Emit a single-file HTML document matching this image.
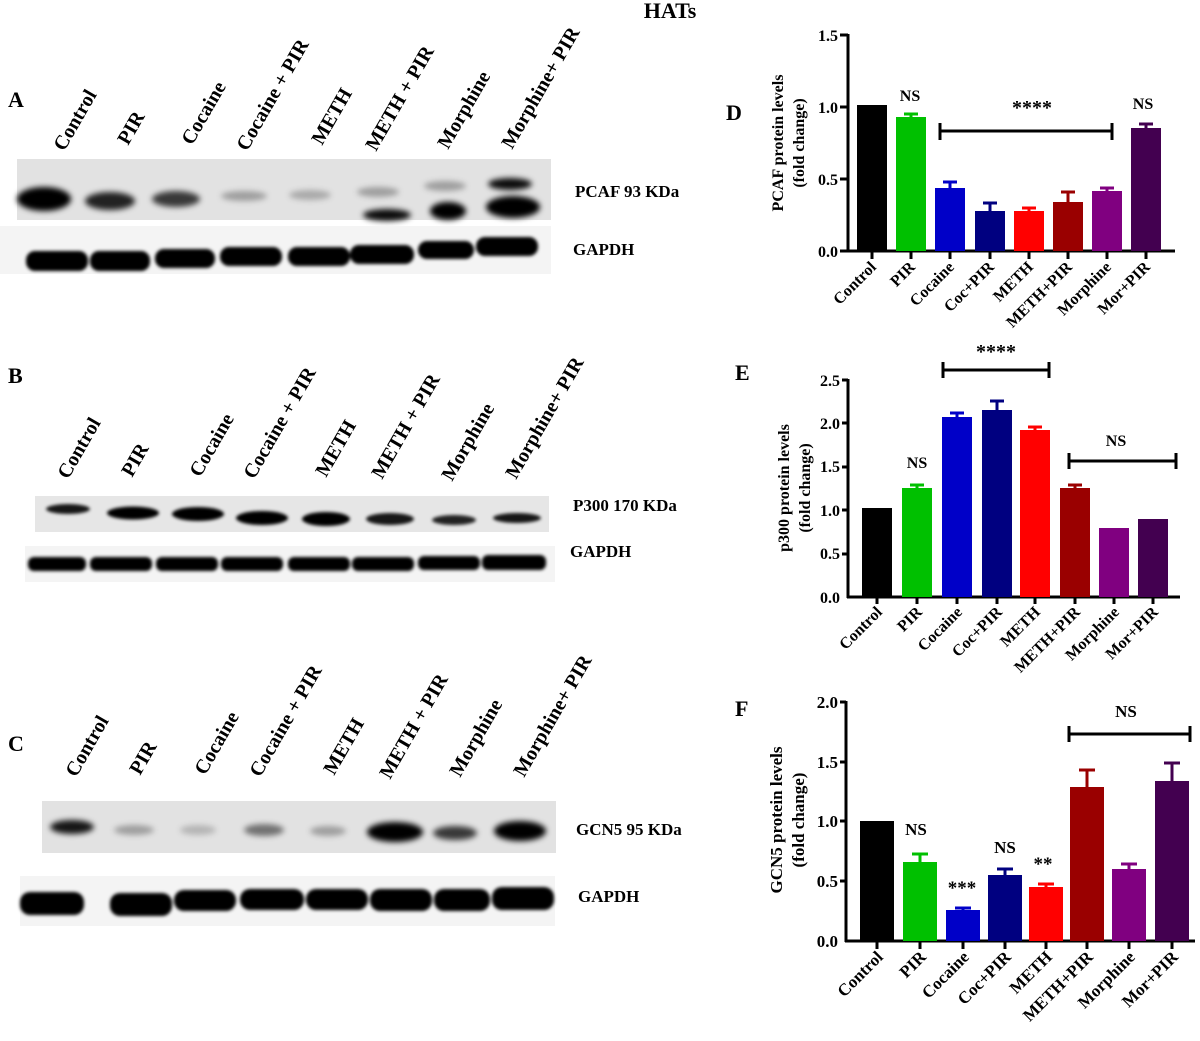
<!DOCTYPE html>
<html><head><meta charset="utf-8"><style>
body{margin:0;background:#fff;}
svg{display:block;font-family:"Liberation Serif",serif;font-weight:bold;}
</style></head><body>
<svg width="1200" height="1041" viewBox="0 0 1200 1041" xmlns="http://www.w3.org/2000/svg">
<defs>
<filter id="b" x="-50%" y="-100%" width="200%" height="300%"><feGaussianBlur stdDeviation="3"/></filter>
<filter id="b2" x="-50%" y="-100%" width="200%" height="300%"><feGaussianBlur stdDeviation="1.5"/></filter>
</defs>
<text x="670" y="18" font-size="22" text-anchor="middle">HATs</text>

<!-- Panel A -->
<text x="8" y="107" font-size="22">A</text>
<g font-size="20">
<text transform="translate(64,152) rotate(-60)">Control</text>
<text transform="translate(128,146) rotate(-60)">PIR</text>
<text transform="translate(192,146) rotate(-60)">Cocaine</text>
<text transform="translate(247,152) rotate(-60)">Cocaine + PIR</text>
<text transform="translate(322,146) rotate(-60)">METH</text>
<text transform="translate(376,152) rotate(-60)">METH + PIR</text>
<text transform="translate(448,150) rotate(-60)">Morphine</text>
<text transform="translate(512,150) rotate(-60)">Morphine+ PIR</text>
</g>
<rect x="17" y="159" width="534" height="61" fill="#e2e2e2"/>
<g filter="url(#b)" fill="#000">
<ellipse cx="44" cy="199" rx="27" ry="12"/>
<ellipse cx="110" cy="201" rx="25" ry="9" opacity="0.85"/>
<ellipse cx="176" cy="199" rx="24" ry="8" opacity="0.75"/>
<ellipse cx="244" cy="196" rx="23" ry="5" opacity="0.3"/>
<ellipse cx="310" cy="195" rx="21" ry="5" opacity="0.25"/>
<ellipse cx="378" cy="192" rx="21" ry="5" opacity="0.3"/>
<ellipse cx="387" cy="215" rx="24" ry="6" opacity="0.95"/>
<ellipse cx="445" cy="186" rx="21" ry="5" opacity="0.3"/>
<ellipse cx="448" cy="211" rx="18" ry="9"/>
<ellipse cx="510" cy="184" rx="22" ry="6" opacity="0.95"/>
<ellipse cx="513" cy="207" rx="27" ry="11"/>
</g>
<rect x="0" y="226" width="551" height="48" fill="#f4f4f4"/>
<g filter="url(#b2)" fill="#000">
<rect x="26" y="251" width="62" height="20" rx="9"/>
<rect x="90" y="251" width="60" height="20" rx="9"/>
<rect x="155" y="249" width="60" height="19" rx="9"/>
<rect x="220" y="247" width="62" height="19" rx="9"/>
<rect x="288" y="247" width="62" height="19" rx="9"/>
<rect x="350" y="245" width="64" height="19" rx="9"/>
<rect x="418" y="241" width="56" height="18" rx="9"/>
<rect x="476" y="237" width="62" height="19" rx="9"/>
</g>
<text x="575" y="197" font-size="17">PCAF 93 KDa</text>
<text x="573" y="255" font-size="17">GAPDH</text>

<!-- Panel B -->
<text x="8" y="383" font-size="22">B</text>
<g font-size="20">
<text transform="translate(68,480) rotate(-60)">Control</text>
<text transform="translate(132,478) rotate(-60)">PIR</text>
<text transform="translate(200,478) rotate(-60)">Cocaine</text>
<text transform="translate(254,480) rotate(-60)">Cocaine + PIR</text>
<text transform="translate(326,478) rotate(-60)">METH</text>
<text transform="translate(382,480) rotate(-60)">METH + PIR</text>
<text transform="translate(452,482) rotate(-60)">Morphine</text>
<text transform="translate(516,480) rotate(-60)">Morphine+ PIR</text>
</g>
<rect x="35" y="496" width="514" height="36" fill="#e6e6e6"/>
<g filter="url(#b2)" fill="#000">
<ellipse cx="68" cy="509" rx="22" ry="5" opacity="0.9"/>
<ellipse cx="133" cy="513" rx="26" ry="6.5"/>
<ellipse cx="198" cy="514" rx="26" ry="7"/>
<ellipse cx="262" cy="518" rx="26" ry="7"/>
<ellipse cx="326" cy="519" rx="24" ry="7"/>
<ellipse cx="390" cy="519" rx="24" ry="6" opacity="0.9"/>
<ellipse cx="454" cy="520" rx="22" ry="5" opacity="0.85"/>
<ellipse cx="517" cy="518" rx="24" ry="5" opacity="0.9"/>
</g>
<rect x="25" y="546" width="530" height="36" fill="#f4f4f4"/>
<g filter="url(#b2)" fill="#000">
<rect x="28" y="557" width="58" height="14" rx="6"/>
<rect x="90" y="557" width="62" height="14" rx="6"/>
<rect x="156" y="557" width="62" height="14" rx="6"/>
<rect x="221" y="557" width="62" height="14" rx="6"/>
<rect x="288" y="557" width="62" height="14" rx="6"/>
<rect x="352" y="557" width="62" height="14" rx="6"/>
<rect x="418" y="556" width="62" height="14" rx="6"/>
<rect x="482" y="555" width="64" height="15" rx="6"/>
</g>
<text x="573" y="511" font-size="17">P300 170 KDa</text>
<text x="570" y="557" font-size="17">GAPDH</text>

<!-- Panel C -->
<text x="8" y="751" font-size="22">C</text>
<g font-size="20">
<text transform="translate(76,778) rotate(-60)">Control</text>
<text transform="translate(140,776) rotate(-60)">PIR</text>
<text transform="translate(205,776) rotate(-60)">Cocaine</text>
<text transform="translate(260,778) rotate(-60)">Cocaine + PIR</text>
<text transform="translate(334,776) rotate(-60)">METH</text>
<text transform="translate(390,780) rotate(-60)">METH + PIR</text>
<text transform="translate(460,778) rotate(-60)">Morphine</text>
<text transform="translate(524,778) rotate(-60)">Morphine+ PIR</text>
</g>
<rect x="42" y="801" width="514" height="52" fill="#e2e2e2"/>
<g filter="url(#b)" fill="#000">
<ellipse cx="72" cy="827" rx="22" ry="7" opacity="0.9"/>
<ellipse cx="134" cy="830" rx="20" ry="5" opacity="0.3"/>
<ellipse cx="198" cy="830" rx="18" ry="5" opacity="0.2"/>
<ellipse cx="264" cy="830" rx="20" ry="6" opacity="0.5"/>
<ellipse cx="328" cy="831" rx="18" ry="5" opacity="0.3"/>
<ellipse cx="395" cy="832" rx="28" ry="10"/>
<ellipse cx="455" cy="833" rx="22" ry="7" opacity="0.75"/>
<ellipse cx="520" cy="831" rx="26" ry="10"/>
</g>
<rect x="20" y="876" width="535" height="50" fill="#f4f4f4"/>
<g filter="url(#b2)" fill="#000">
<rect x="20" y="892" width="64" height="23" rx="10"/>
<rect x="110" y="893" width="62" height="23" rx="10"/>
<rect x="174" y="890" width="62" height="21" rx="10"/>
<rect x="240" y="889" width="64" height="21" rx="10"/>
<rect x="306" y="889" width="62" height="21" rx="10"/>
<rect x="370" y="889" width="62" height="22" rx="10"/>
<rect x="434" y="889" width="56" height="22" rx="10"/>
<rect x="492" y="887" width="62" height="23" rx="10"/>
</g>
<text x="576" y="835" font-size="17">GCN5 95 KDa</text>
<text x="578" y="902" font-size="17">GAPDH</text>

<!-- Chart D -->
<text x="726" y="120" font-size="22">D</text>
<text transform="translate(783,143) rotate(-90)" font-size="16" text-anchor="middle">PCAF protein levels</text>
<text transform="translate(804,143) rotate(-90)" font-size="16" text-anchor="middle">(fold change)</text>
<g font-size="16" text-anchor="end">
<text x="838" y="257">0.0</text><text x="838" y="185">0.5</text><text x="838" y="113">1.0</text><text x="838" y="41">1.5</text>
</g>
<g stroke="#000" stroke-width="3">
<line x1="848" y1="34" x2="848" y2="252"/>
<line x1="847" y1="251" x2="1175" y2="251"/>
<line x1="840" y1="35" x2="848" y2="35"/><line x1="840" y1="107" x2="848" y2="107"/><line x1="840" y1="179" x2="848" y2="179"/><line x1="840" y1="251" x2="848" y2="251"/>
<line x1="872" y1="251" x2="872" y2="259"/><line x1="911" y1="251" x2="911" y2="259"/><line x1="950" y1="251" x2="950" y2="259"/><line x1="990" y1="251" x2="990" y2="259"/><line x1="1029" y1="251" x2="1029" y2="259"/><line x1="1068" y1="251" x2="1068" y2="259"/><line x1="1107" y1="251" x2="1107" y2="259"/><line x1="1146" y1="251" x2="1146" y2="259"/>
</g>
<g stroke-width="3">
<rect x="857" y="105" width="30" height="146" fill="#000"/>
<rect x="896" y="117" width="30" height="134" fill="#00c000"/><line x1="911" y1="117" x2="911" y2="114" stroke="#00c000"/><line x1="904" y1="114" x2="918" y2="114" stroke="#00c000"/>
<rect x="935" y="188" width="30" height="63" fill="#0000c8"/><line x1="950" y1="188" x2="950" y2="182" stroke="#0000c8"/><line x1="943" y1="182" x2="957" y2="182" stroke="#0000c8"/>
<rect x="975" y="211" width="30" height="40" fill="#000080"/><line x1="990" y1="211" x2="990" y2="203" stroke="#000080"/><line x1="983" y1="203" x2="997" y2="203" stroke="#000080"/>
<rect x="1014" y="211" width="30" height="40" fill="#ff0000"/><line x1="1029" y1="211" x2="1029" y2="208" stroke="#ff0000"/><line x1="1022" y1="208" x2="1036" y2="208" stroke="#ff0000"/>
<rect x="1053" y="202" width="30" height="49" fill="#9a0000"/><line x1="1068" y1="202" x2="1068" y2="192" stroke="#9a0000"/><line x1="1061" y1="192" x2="1075" y2="192" stroke="#9a0000"/>
<rect x="1092" y="191" width="30" height="60" fill="#800080"/><line x1="1107" y1="191" x2="1107" y2="188" stroke="#800080"/><line x1="1100" y1="188" x2="1114" y2="188" stroke="#800080"/>
<rect x="1131" y="128" width="30" height="123" fill="#430050"/><line x1="1146" y1="128" x2="1146" y2="124" stroke="#430050"/><line x1="1139" y1="124" x2="1153" y2="124" stroke="#430050"/>
</g>
<g stroke="#000" stroke-width="3"><line x1="940" y1="131" x2="1112" y2="131"/><line x1="940" y1="123" x2="940" y2="140"/><line x1="1112" y1="123" x2="1112" y2="140"/></g>
<text x="910" y="101" font-size="16" text-anchor="middle">NS</text>
<text x="1143" y="109" font-size="16" text-anchor="middle">NS</text>
<text x="1032" y="114" font-size="20" text-anchor="middle">****</text>
<g font-size="16" text-anchor="end">
<text transform="translate(877,268) rotate(-45)">Control</text>
<text transform="translate(916,268) rotate(-45)">PIR</text>
<text transform="translate(955,268) rotate(-45)">Cocaine</text>
<text transform="translate(995,268) rotate(-45)">Coc+PIR</text>
<text transform="translate(1034,268) rotate(-45)">METH</text>
<text transform="translate(1073,268) rotate(-45)">METH+PIR</text>
<text transform="translate(1112,268) rotate(-45)">Morphine</text>
<text transform="translate(1151,268) rotate(-45)">Mor+PIR</text>
</g>

<!-- Chart E -->
<text x="735" y="380" font-size="22">E</text>
<text transform="translate(789,488) rotate(-90)" font-size="16" text-anchor="middle">p300 protein levels</text>
<text transform="translate(810,488) rotate(-90)" font-size="16" text-anchor="middle">(fold change)</text>
<g font-size="16" text-anchor="end">
<text x="840" y="603">0.0</text><text x="840" y="559">0.5</text><text x="840" y="516">1.0</text><text x="840" y="472">1.5</text><text x="840" y="429">2.0</text><text x="840" y="386">2.5</text>
</g>
<g stroke="#000" stroke-width="3">
<line x1="848" y1="379" x2="848" y2="598"/>
<line x1="847" y1="597" x2="1180" y2="597"/>
<line x1="842" y1="380" x2="848" y2="380"/><line x1="842" y1="423" x2="848" y2="423"/><line x1="842" y1="467" x2="848" y2="467"/><line x1="842" y1="510" x2="848" y2="510"/><line x1="842" y1="554" x2="848" y2="554"/>
<line x1="877" y1="597" x2="877" y2="604"/><line x1="917" y1="597" x2="917" y2="604"/><line x1="957" y1="597" x2="957" y2="604"/><line x1="997" y1="597" x2="997" y2="604"/><line x1="1035" y1="597" x2="1035" y2="604"/><line x1="1075" y1="597" x2="1075" y2="604"/><line x1="1114" y1="597" x2="1114" y2="604"/><line x1="1153" y1="597" x2="1153" y2="604"/>
</g>
<g stroke-width="3">
<rect x="862" y="508" width="30" height="89" fill="#000"/>
<rect x="902" y="488" width="30" height="109" fill="#00c000"/><line x1="917" y1="488" x2="917" y2="485" stroke="#00c000"/><line x1="910" y1="485" x2="924" y2="485" stroke="#00c000"/>
<rect x="942" y="417" width="30" height="180" fill="#0000c8"/><line x1="957" y1="417" x2="957" y2="413" stroke="#0000c8"/><line x1="950" y1="413" x2="964" y2="413" stroke="#0000c8"/>
<rect x="982" y="410" width="30" height="187" fill="#000080"/><line x1="997" y1="410" x2="997" y2="401" stroke="#000080"/><line x1="990" y1="401" x2="1004" y2="401" stroke="#000080"/>
<rect x="1020" y="430" width="30" height="167" fill="#ff0000"/><line x1="1035" y1="430" x2="1035" y2="427" stroke="#ff0000"/><line x1="1028" y1="427" x2="1042" y2="427" stroke="#ff0000"/>
<rect x="1060" y="488" width="30" height="109" fill="#9a0000"/><line x1="1075" y1="488" x2="1075" y2="485" stroke="#9a0000"/><line x1="1068" y1="485" x2="1082" y2="485" stroke="#9a0000"/>
<rect x="1099" y="528" width="30" height="69" fill="#800080"/>
<rect x="1138" y="519" width="30" height="78" fill="#430050"/>
</g>
<g stroke="#000" stroke-width="3">
<line x1="943" y1="370" x2="1049" y2="370"/><line x1="943" y1="362" x2="943" y2="378"/><line x1="1049" y1="362" x2="1049" y2="378"/>
<line x1="1069" y1="461" x2="1176" y2="461"/><line x1="1069" y1="453" x2="1069" y2="469"/><line x1="1176" y1="453" x2="1176" y2="469"/>
</g>
<text x="917" y="468" font-size="16" text-anchor="middle">NS</text>
<text x="1116" y="446" font-size="16" text-anchor="middle">NS</text>
<text x="996" y="358" font-size="20" text-anchor="middle">****</text>
<g font-size="16" text-anchor="end">
<text transform="translate(883,613) rotate(-45)">Control</text>
<text transform="translate(923,613) rotate(-45)">PIR</text>
<text transform="translate(963,613) rotate(-45)">Cocaine</text>
<text transform="translate(1003,613) rotate(-45)">Coc+PIR</text>
<text transform="translate(1041,613) rotate(-45)">METH</text>
<text transform="translate(1081,613) rotate(-45)">METH+PIR</text>
<text transform="translate(1120,613) rotate(-45)">Morphine</text>
<text transform="translate(1159,613) rotate(-45)">Mor+PIR</text>
</g>

<!-- Chart F -->
<text x="735" y="716" font-size="22">F</text>
<text transform="translate(782,820) rotate(-90)" font-size="17" text-anchor="middle">GCN5 protein levels</text>
<text transform="translate(804,820) rotate(-90)" font-size="17" text-anchor="middle">(fold change)</text>
<g font-size="17" text-anchor="end">
<text x="838" y="947">0.0</text><text x="838" y="887">0.5</text><text x="838" y="827">1.0</text><text x="838" y="768">1.5</text><text x="838" y="708">2.0</text>
</g>
<g stroke="#000" stroke-width="3">
<line x1="846" y1="701" x2="846" y2="942"/>
<line x1="845" y1="941" x2="1195" y2="941"/>
<line x1="840" y1="702" x2="846" y2="702"/><line x1="840" y1="762" x2="846" y2="762"/><line x1="840" y1="821" x2="846" y2="821"/><line x1="840" y1="881" x2="846" y2="881"/>
<line x1="877" y1="941" x2="877" y2="949"/><line x1="920" y1="941" x2="920" y2="949"/><line x1="963" y1="941" x2="963" y2="949"/><line x1="1005" y1="941" x2="1005" y2="949"/><line x1="1046" y1="941" x2="1046" y2="949"/><line x1="1087" y1="941" x2="1087" y2="949"/><line x1="1129" y1="941" x2="1129" y2="949"/><line x1="1172" y1="941" x2="1172" y2="949"/>
</g>
<g stroke-width="3">
<rect x="860" y="821" width="34" height="120" fill="#000"/>
<rect x="903" y="862" width="34" height="79" fill="#00c000"/><line x1="920" y1="862" x2="920" y2="854" stroke="#00c000"/><line x1="912" y1="854" x2="928" y2="854" stroke="#00c000"/>
<rect x="946" y="910" width="34" height="31" fill="#0000c8"/><line x1="963" y1="910" x2="963" y2="908" stroke="#0000c8"/><line x1="955" y1="908" x2="971" y2="908" stroke="#0000c8"/>
<rect x="988" y="875" width="34" height="66" fill="#000080"/><line x1="1005" y1="875" x2="1005" y2="869" stroke="#000080"/><line x1="997" y1="869" x2="1013" y2="869" stroke="#000080"/>
<rect x="1029" y="887" width="34" height="54" fill="#ff0000"/><line x1="1046" y1="887" x2="1046" y2="884" stroke="#ff0000"/><line x1="1038" y1="884" x2="1054" y2="884" stroke="#ff0000"/>
<rect x="1070" y="787" width="34" height="154" fill="#9a0000"/><line x1="1087" y1="787" x2="1087" y2="770" stroke="#9a0000"/><line x1="1079" y1="770" x2="1095" y2="770" stroke="#9a0000"/>
<rect x="1112" y="869" width="34" height="72" fill="#800080"/><line x1="1129" y1="869" x2="1129" y2="864" stroke="#800080"/><line x1="1121" y1="864" x2="1137" y2="864" stroke="#800080"/>
<rect x="1155" y="781" width="34" height="160" fill="#430050"/><line x1="1172" y1="781" x2="1172" y2="763" stroke="#430050"/><line x1="1164" y1="763" x2="1180" y2="763" stroke="#430050"/>
</g>
<g stroke="#000" stroke-width="3">
<line x1="1069" y1="734" x2="1190" y2="734"/><line x1="1069" y1="726" x2="1069" y2="742"/><line x1="1190" y1="726" x2="1190" y2="742"/>
</g>
<text x="916" y="835" font-size="17" text-anchor="middle">NS</text>
<text x="1005" y="853" font-size="17" text-anchor="middle">NS</text>
<text x="1126" y="717" font-size="17" text-anchor="middle">NS</text>
<text x="962" y="894" font-size="19" text-anchor="middle">***</text>
<text x="1043" y="870" font-size="19" text-anchor="middle">**</text>
<g font-size="17" text-anchor="end">
<text transform="translate(884,958) rotate(-45)">Control</text>
<text transform="translate(927,958) rotate(-45)">PIR</text>
<text transform="translate(970,958) rotate(-45)">Cocaine</text>
<text transform="translate(1012,958) rotate(-45)">Coc+PIR</text>
<text transform="translate(1053,958) rotate(-45)">METH</text>
<text transform="translate(1094,958) rotate(-45)">METH+PIR</text>
<text transform="translate(1136,958) rotate(-45)">Morphine</text>
<text transform="translate(1179,958) rotate(-45)">Mor+PIR</text>
</g>
</svg>
</body></html>
